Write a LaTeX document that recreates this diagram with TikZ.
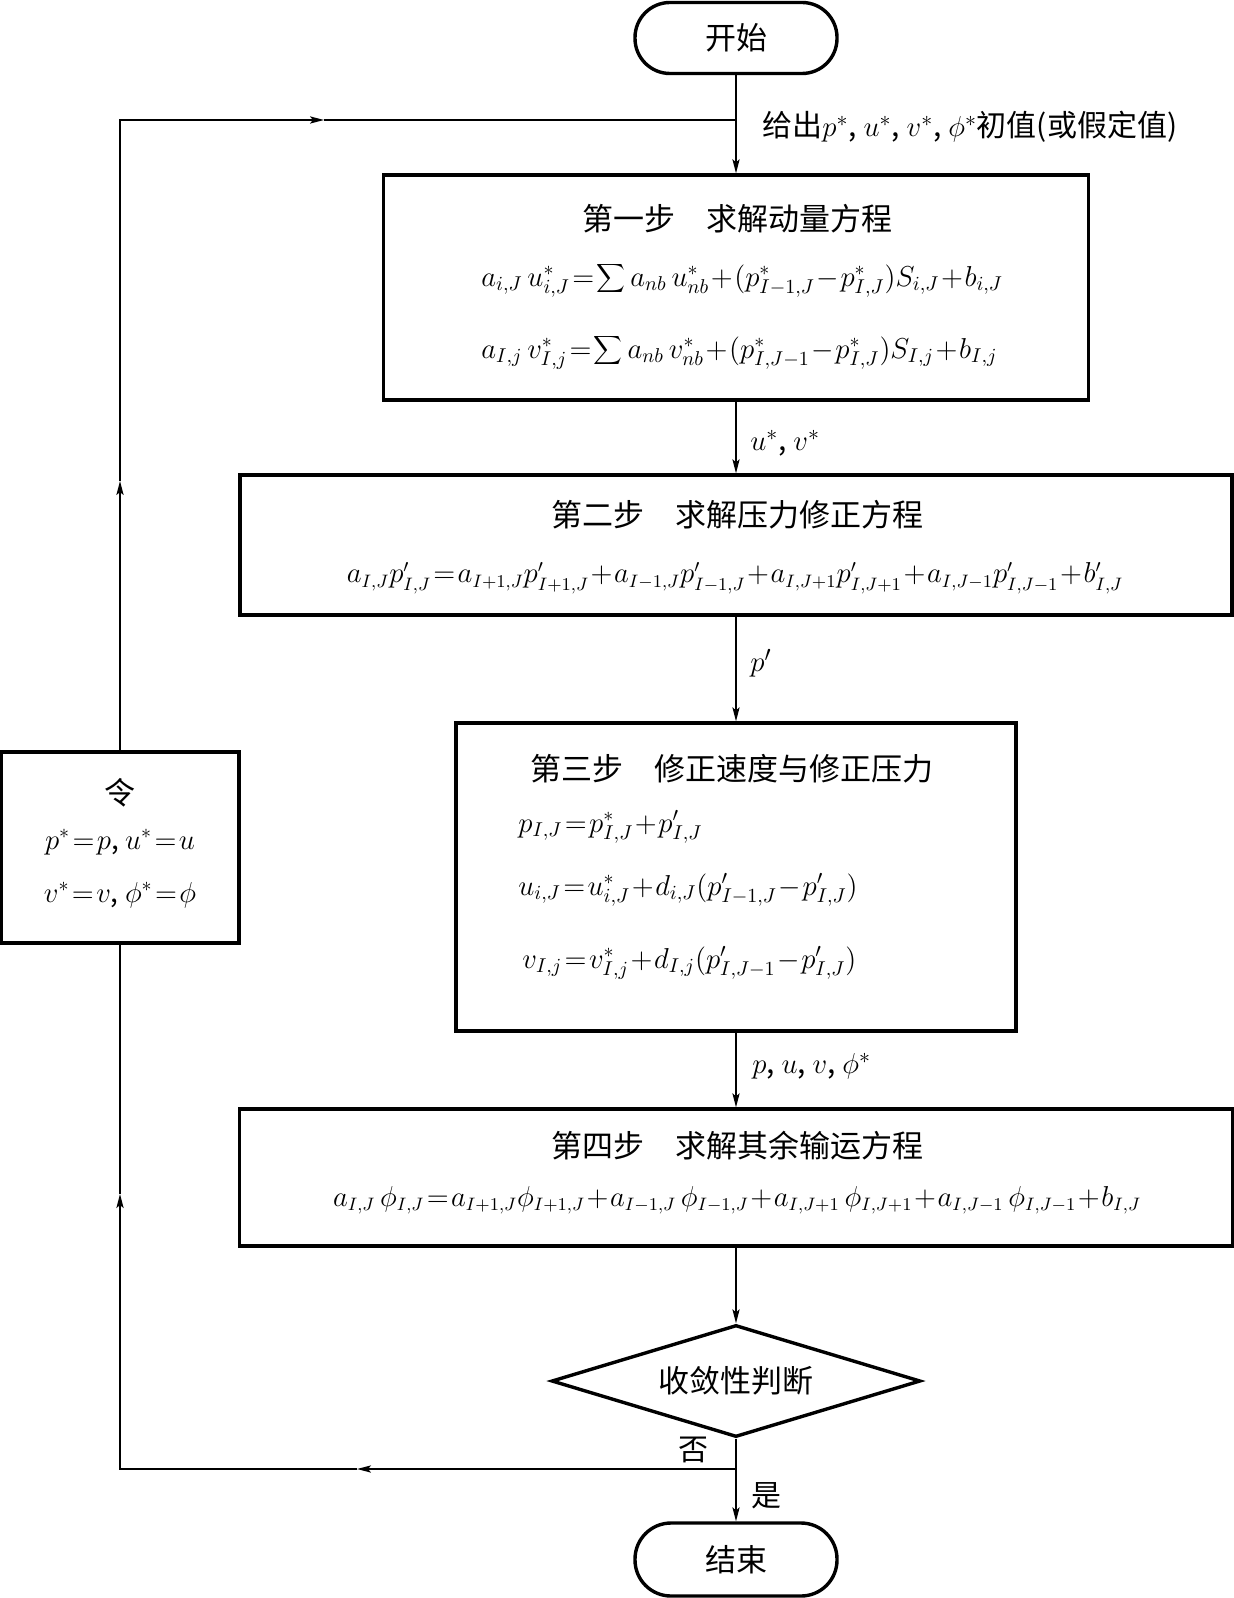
\documentclass[tikz,border=0pt]{standalone}
\usepackage{fontspec}
\setmainfont{Noto Sans CJK SC}
\usetikzlibrary{arrows.meta,shapes.geometric}
\newcommand{\tightmath}{\medmuskip=1mu plus 1mu\thickmuskip=1.5mu plus 1mu}
\newcommand{\bigsum}{\mathop{\displaystyle\sum}}
\tikzset{
  box/.style={draw, line width=1.7pt, inner sep=0pt},
  conn/.style={line width=0.75pt},
  arr/.style={-{Stealth[length=7pt,width=3.6pt,inset=1.5pt]}},
  ttl/.style={font=\fontsize{15.5}{18}\selectfont, inner sep=0pt},
  eq/.style={font=\fontsize{14}{17}\selectfont\tightmath, inner sep=0pt},
  eqs/.style={font=\fontsize{13.5}{17}\selectfont\tightmath, inner sep=0pt},
  lbl/.style={font=\fontsize{15}{18}\selectfont, inner sep=0pt}
}
\begin{document}
\begin{tikzpicture}[x=0.5pt,y=-0.5pt]
\useasboundingbox (0,0) rectangle (1234,1598);
% boxes
\node[box, rounded corners=17.5pt, minimum width=101pt, minimum height=35.5pt, ttl] (start) at (736,38) {开始};
\node[box, minimum width=352.5pt, minimum height=112.5pt] (s1) at (736,287.5) {};
\node[box, minimum width=496pt, minimum height=70pt] (s2) at (736,545) {};
\node[box, minimum width=280pt, minimum height=154pt] (s3) at (736,877) {};
\node[box, minimum width=496.5pt, minimum height=68.5pt] (s4) at (736,1177.5) {};
\node[box, shape=diamond, aspect=3.3, minimum width=184.5pt, minimum height=56pt, ttl] (dia) at (736,1381) {收敛性判断};
\node[box, rounded corners=18pt, minimum width=101pt, minimum height=36.5pt, ttl] (end) at (736,1559.5) {结束};
\node[box, minimum width=119pt, minimum height=95.5pt] (let) at (120,847.5) {};
% texts step 1
\node[ttl] (t1) at (737,219) {第一步\hspace{1em}求解动量方程};
\node[eq, anchor=west] (e11) at (481,280) {$a_{i,J}\,u^*_{i,J}=\bigsum a_{nb}\,u^*_{nb}+(p^*_{I-1,J}-p^*_{I,J})S_{i,J}+b_{i,J}$};
\node[eq, anchor=west] (e12) at (481,352) {$a_{I,j}\,v^*_{I,j}=\bigsum a_{nb}\,v^*_{nb}+(p^*_{I,J-1}-p^*_{I,J})S_{I,j}+b_{I,j}$};
% step 2
\node[ttl] (t2) at (737,515) {第二步\hspace{1em}求解压力修正方程};
\node[eqs] (e2) at (735,578) {$a_{I,J}p'_{I,J}=a_{I+1,J}p'_{I+1,J}+a_{I-1,J}p'_{I-1,J}+a_{I,J+1}p'_{I,J+1}+a_{I,J-1}p'_{I,J-1}+b'_{I,J}$};
% step 3
\node[ttl] (t3) at (732,769) {第三步\hspace{1em}修正速度与修正压力};
\node[eq, anchor=west] (e31) at (518,827) {$p_{I,J}=p^*_{I,J}+p'_{I,J}$};
\node[eq, anchor=west] (e32) at (518,890) {$u_{i,J}=u^*_{i,J}+d_{i,J}(p'_{I-1,J}-p'_{I,J})$};
\node[eq, anchor=west] (e33) at (522,963) {$v_{I,j}=v^*_{I,j}+d_{I,j}(p'_{I,J-1}-p'_{I,J})$};
% step 4
\node[ttl] (t4) at (737,1146) {第四步\hspace{1em}求解其余输运方程};
\node[eqs] (e4) at (737,1200) {$a_{I,J}\,\phi_{I,J}=a_{I+1,J}\phi_{I+1,J}+a_{I-1,J}\,\phi_{I-1,J}+a_{I,J+1}\,\phi_{I,J+1}+a_{I,J-1}\,\phi_{I,J-1}+b_{I,J}$};
% let box
\node[ttl] (tl) at (120,793) {令};
\node[eq] (el1) at (120,842) {$p^*=p$, $u^*=u$};
\node[eq] (el2) at (120,895) {$v^*=v$, $\phi^*=\phi$};
% labels
\node[lbl, anchor=west] (l0) at (762,127) {给出$p^*$, $u^*$, $v^*$, $\phi^*$初值(或假定值)};
\node[lbl, anchor=west] (l1) at (750,443) {$u^*$, $v^*$};
\node[lbl, anchor=west] (l2) at (750,663) {$p'$};
\node[lbl, anchor=west] (l3) at (752,1066) {$p$, $u$, $v$, $\phi^*$};
\node[lbl] (lno) at (693,1450) {否};
\node[lbl] (lyes) at (766,1496) {是};
% coordinates
\coordinate (j1) at (736,120);
\coordinate (j2) at (736,1469);
\coordinate (ma) at (120,481);
\coordinate (mb) at (324,120);
\coordinate (mc) at (357,1469);
\coordinate (md) at (120,1194);
% connectors
\draw[conn,arr] (start) -- (s1);
\draw[conn,arr] (s1) -- (s2);
\draw[conn,arr] (s2) -- (s3);
\draw[conn,arr] (s3) -- (s4);
\draw[conn,arr] (s4) -- (dia);
\draw[conn,arr] (dia) -- (end);
\draw[conn,arr] (j2) -- (mc);
\draw[conn,arr] (mc) -| (md);
\draw[conn] (md) -- (let.south);
\draw[conn,arr] (let.north) -- (ma);
\draw[conn,arr] (ma) |- (mb);
\draw[conn] (mb) -- (j1);
\end{tikzpicture}
\end{document}
